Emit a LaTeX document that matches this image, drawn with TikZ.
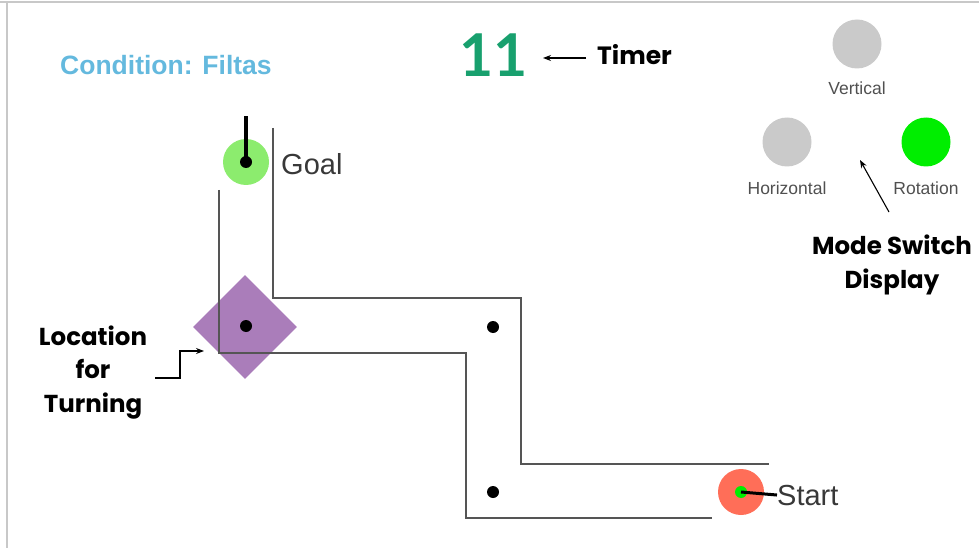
\documentclass[tikz,border=0pt]{standalone}
\usepackage{fontspec}
\setmainfont{Liberation Sans}
\newfontfamily\lato{Lato}
\newfontfamily\popp{Poppins}
\usetikzlibrary{arrows.meta,shapes.geometric}
\definecolor{framegray}{RGB}{200,200,200}
\definecolor{wallgray}{RGB}{85,85,85}
\definecolor{goalgreen}{RGB}{140,236,110}
\definecolor{startred}{RGB}{255,110,88}
\definecolor{turnpurple}{RGB}{170,125,186}
\definecolor{condblue}{RGB}{100,185,222}
\definecolor{timergreen}{RGB}{24,160,110}
\definecolor{modegray}{RGB}{202,202,202}
\definecolor{modegreen}{RGB}{0,238,0}
\definecolor{labelgray}{RGB}{80,80,80}
\begin{document}
\begin{tikzpicture}[x=1pt,y=-1pt,
  wall/.style={draw=wallgray,line width=1.6pt},
  blackdot/.style={circle,fill=black,inner sep=0pt,minimum size=12pt},
  modelamp/.style={circle,fill=modegray,inner sep=0pt,minimum size=49pt},
  modelabel/.style={font=\fontsize{17.5}{19}\selectfont,text=labelgray,inner sep=0pt},
  callout/.style={font=\popp\bfseries\fontsize{24.5}{33.5}\selectfont,align=center,inner sep=0pt},
  pointer/.style={draw=black,line width=1.1pt,-{Stealth[length=8pt,width=6pt]}}]
\useasboundingbox (0,0) rectangle (979,548);
% frame
\draw[framegray,line width=1.5pt] (0,2) -- (979,2);
\draw[framegray,line width=1.5pt] (7,2) -- (7,548);
% turning diamond
\node[diamond,fill=turnpurple,minimum width=104pt,minimum height=104pt,inner sep=0pt] (turn) at (245,327) {};
\node[blackdot] (turndot) at (246,326) {};
% walls
\draw[wall] (219,190) -- (219,353) -- (466,353) -- (466,518) -- (712,518);
\draw[wall] (273,128) -- (273,298) -- (521,298) -- (521,464) -- (769,464);
% waypoints
\node[blackdot] (wp1) at (493,327) {};
\node[blackdot] (wp2) at (493,492) {};
% goal
\node[circle,fill=goalgreen,inner sep=0pt,minimum size=46pt] (goal) at (246,162) {};
\node[blackdot] (goaldot) at (246,162) {};
\coordinate (goaltip) at (246,116);
\draw[line width=4pt] (goaldot.center) -- (goaltip);
\node[anchor=base west,inner sep=0pt,text=labelgray!70!black,font=\fontsize{29}{32}\selectfont] (goaltext) at (281,175) {Goal};
% start
\node[circle,fill=startred,inner sep=0pt,minimum size=46pt] (start) at (741,492) {};
\node[circle,fill=modegreen,inner sep=0pt,minimum size=12pt] (startdot) at (741,492) {};
\node[anchor=base west,inner sep=0pt,text=labelgray!70!black,font=\fontsize{29}{32}\selectfont] (starttext) at (777,505) {Start};
\draw[line width=3pt] (startdot.center) -- (starttext.west);
% condition
\node[anchor=base west,inner sep=0pt,text=condblue,font=\bfseries\fontsize{26.5}{28}\selectfont] (cond) at (60,75) {Condition: Filtas};
% timer
\node[anchor=base west,inner sep=0pt,text=timergreen,font=\lato\bfseries\fontsize{59}{60}\selectfont] (eleven) at (459,77) {11};
\node[anchor=base west,inner sep=0pt,font=\popp\bfseries\fontsize{25}{28}\selectfont] (timer) at (597,65) {Timer};
\draw[pointer] (586,58) -- (543,58);
% mode switch lamps
\node[modelamp] (vert) at (857,44) {};
\node[modelamp] (horiz) at (787,142) {};
\node[modelamp,fill=modegreen] (rot) at (926,142) {};
\node[modelabel] (vertl) at (857,88) {Vertical};
\node[modelabel] (horizl) at (787,188) {Horizontal};
\node[modelabel] (rotl) at (926,188) {Rotation};
\node[callout,anchor=base] (mode) at (892,288) {Mode Switch\\Display};
\coordinate (modetip) at (860,160);
\draw[pointer] (889,212) -- (modetip);
% location
\node[callout,anchor=base] (loc) at (93,412) {Location\\for\\Turning};
\coordinate (loctip) at (204,351);
\draw[pointer] (155,378) -- (180,378) -- (180,351) -- (loctip);
\end{tikzpicture}
\end{document}
